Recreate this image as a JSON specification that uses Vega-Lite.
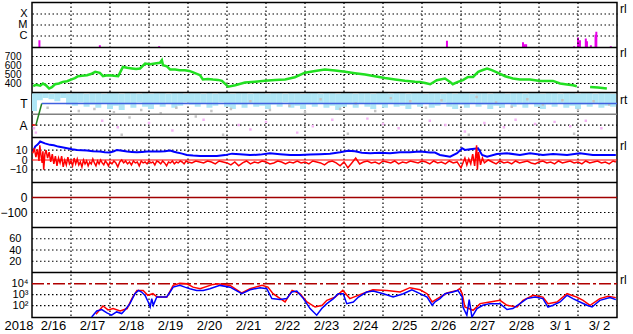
{
"$schema":"https://vega.github.io/schema/vega-lite/v6.json",
"autosize":{"type":"none"},
"width":585,"height":315,
"padding":{"left":32,"top":2.5,"right":16,"bottom":16.5},
"background":"white",
"config":{
 "view":{"stroke":"#000","strokeWidth":1.5},
 "axis":{"grid":true,"gridColor":"#000","gridDash":[1.5,2.5],"gridOpacity":1,"gridWidth":1.2,"domain":false,"ticks":false,"tickSize":0,"labelFont":"Liberation Sans","labelFontSize":12,"labelColor":"#000","labelOverlap":false},
 "axisY":{"labelPadding":5,"labelAlign":"right"}
},
"resolve":{"scale":{"y":"independent"},"axis":{"y":"independent"}},
"datasets":{
 "days":[{"d":1},{"d":2},{"d":3},{"d":4},{"d":5},{"d":6},{"d":7},{"d":8},{"d":9},{"d":10},{"d":11},{"d":12},{"d":13},{"d":14}],
 "xray":[{"t":0.19,"v":-6.43},{"t":1.74,"v":-6.88},{"t":3.26,"v":-6.97},{"t":10.64,"v":-6.49},{"t":12.59,"v":-6.61},{"t":12.63,"v":-6.79},{"t":12.67,"v":-6.79},{"t":13.9,"v":-6.97},{"t":14.0,"v":-6.18},{"t":14.05,"v":-6.43},{"t":14.2,"v":-6.27},{"t":14.23,"v":-6.52},{"t":14.33,"v":-6.88},{"t":14.45,"v":-5.95},{"t":14.47,"v":-5.67},{"t":14.84,"v":-6.97}],
 "wind":[{"t":0.03,"v":370,"s":1},{"t":0.1,"v":385,"s":1},{"t":0.21,"v":375,"s":1},{"t":0.28,"v":400,"s":1},{"t":0.36,"v":380,"s":1},{"t":0.44,"v":344,"s":1},{"t":0.51,"v":360,"s":1},{"t":0.59,"v":392,"s":1},{"t":0.69,"v":400,"s":1},{"t":0.79,"v":418,"s":1},{"t":0.9,"v":425,"s":1},{"t":1.0,"v":444,"s":1},{"t":1.1,"v":460,"s":1},{"t":1.18,"v":481,"s":1},{"t":1.28,"v":485,"s":1},{"t":1.41,"v":492,"s":1},{"t":1.51,"v":505,"s":1},{"t":1.62,"v":529,"s":1},{"t":1.74,"v":518,"s":1},{"t":1.82,"v":481,"s":1},{"t":1.9,"v":488,"s":1},{"t":2.0,"v":492,"s":1},{"t":2.1,"v":485,"s":1},{"t":2.21,"v":481,"s":1},{"t":2.28,"v":540,"s":1},{"t":2.33,"v":584,"s":1},{"t":2.44,"v":575,"s":1},{"t":2.56,"v":567,"s":1},{"t":2.67,"v":560,"s":1},{"t":2.77,"v":567,"s":1},{"t":2.9,"v":622,"s":1},{"t":3.03,"v":615,"s":1},{"t":3.15,"v":622,"s":1},{"t":3.28,"v":630,"s":1},{"t":3.33,"v":659,"s":1},{"t":3.36,"v":603,"s":1},{"t":3.46,"v":590,"s":1},{"t":3.54,"v":556,"s":1},{"t":3.67,"v":555,"s":1},{"t":3.79,"v":548,"s":1},{"t":3.92,"v":548,"s":1},{"t":4.03,"v":540,"s":1},{"t":4.1,"v":529,"s":1},{"t":4.21,"v":510,"s":1},{"t":4.31,"v":492,"s":1},{"t":4.38,"v":444,"s":1},{"t":4.51,"v":450,"s":1},{"t":4.64,"v":444,"s":1},{"t":4.77,"v":440,"s":1},{"t":4.87,"v":430,"s":1},{"t":5.03,"v":365,"s":1},{"t":5.21,"v":380,"s":1},{"t":5.46,"v":410,"s":1},{"t":5.72,"v":420,"s":1},{"t":5.97,"v":430,"s":1},{"t":6.23,"v":440,"s":1},{"t":6.49,"v":445,"s":1},{"t":6.74,"v":470,"s":1},{"t":7.0,"v":520,"s":1},{"t":7.26,"v":540,"s":1},{"t":7.51,"v":555,"s":1},{"t":7.77,"v":545,"s":1},{"t":8.03,"v":530,"s":1},{"t":8.28,"v":515,"s":1},{"t":8.54,"v":500,"s":1},{"t":8.79,"v":480,"s":1},{"t":9.05,"v":460,"s":1},{"t":9.31,"v":445,"s":1},{"t":9.56,"v":430,"s":1},{"t":9.82,"v":420,"s":1},{"t":9.95,"v":418,"s":1},{"t":10.08,"v":405,"s":1},{"t":10.21,"v":392,"s":1},{"t":10.38,"v":437,"s":1},{"t":10.59,"v":456,"s":1},{"t":10.72,"v":418,"s":1},{"t":10.79,"v":392,"s":1},{"t":10.92,"v":418,"s":1},{"t":11.05,"v":437,"s":1},{"t":11.18,"v":473,"s":1},{"t":11.31,"v":473,"s":1},{"t":11.44,"v":529,"s":1},{"t":11.56,"v":550,"s":1},{"t":11.67,"v":567,"s":1},{"t":11.79,"v":548,"s":1},{"t":11.95,"v":518,"s":1},{"t":12.13,"v":481,"s":1},{"t":12.33,"v":456,"s":1},{"t":12.51,"v":444,"s":1},{"t":12.77,"v":444,"s":1},{"t":13.03,"v":429,"s":1},{"t":13.36,"v":429,"s":1},{"t":13.54,"v":400,"s":1},{"t":13.72,"v":390,"s":1},{"t":13.87,"v":381,"s":1},{"t":13.97,"v":370,"s":1},{"t":14.31,"v":362,"s":2},{"t":14.51,"v":355,"s":2},{"t":14.74,"v":344,"s":2}],
 "band":[{"t":0.05,"lo":0.3,"hi":1.95},{"t":0.2,"lo":1.3,"hi":1.95},{"t":0.35,"lo":1.5,"hi":1.95},{"t":0.5,"lo":1.4,"hi":1.9},{"t":0.65,"lo":1.2,"hi":1.95},{"t":0.8,"lo":1.5,"hi":1.95},{"t":0.95,"lo":0.9,"hi":1.9},{"t":1.1,"lo":0.8,"hi":1.95},{"t":1.25,"lo":1.1,"hi":1.95},{"t":1.4,"lo":0.7,"hi":1.9},{"t":1.55,"lo":0.9,"hi":1.95},{"t":1.7,"lo":0.6,"hi":1.95},{"t":1.85,"lo":1.0,"hi":1.9},{"t":2.0,"lo":0.5,"hi":1.95},{"t":2.15,"lo":0.8,"hi":1.95},{"t":2.3,"lo":0.4,"hi":1.9},{"t":2.45,"lo":0.9,"hi":1.95},{"t":2.6,"lo":0.6,"hi":1.95},{"t":2.75,"lo":1.1,"hi":1.9},{"t":2.9,"lo":0.7,"hi":1.95},{"t":3.05,"lo":0.5,"hi":1.9},{"t":3.2,"lo":0.9,"hi":1.95},{"t":3.35,"lo":0.7,"hi":1.95},{"t":3.5,"lo":1.0,"hi":1.9},{"t":3.65,"lo":0.6,"hi":1.95},{"t":3.8,"lo":0.8,"hi":1.95},{"t":3.95,"lo":1.1,"hi":1.9},{"t":4.1,"lo":0.9,"hi":1.95},{"t":4.25,"lo":0.7,"hi":1.95},{"t":4.4,"lo":1.0,"hi":1.9},{"t":4.55,"lo":0.6,"hi":1.95},{"t":4.7,"lo":0.8,"hi":1.9},{"t":4.85,"lo":1.1,"hi":1.95},{"t":5.0,"lo":0.7,"hi":1.95},{"t":5.15,"lo":0.5,"hi":1.9},{"t":5.3,"lo":0.9,"hi":1.95},{"t":5.45,"lo":0.6,"hi":1.95},{"t":5.6,"lo":1.0,"hi":1.9},{"t":5.75,"lo":0.7,"hi":1.95},{"t":5.9,"lo":0.8,"hi":1.95},{"t":6.05,"lo":0.5,"hi":1.9},{"t":6.2,"lo":0.9,"hi":1.95},{"t":6.35,"lo":0.7,"hi":1.95},{"t":6.5,"lo":1.1,"hi":1.9},{"t":6.65,"lo":0.6,"hi":1.95},{"t":6.8,"lo":0.8,"hi":1.95},{"t":6.95,"lo":0.5,"hi":1.9},{"t":7.1,"lo":0.9,"hi":1.95},{"t":7.25,"lo":0.7,"hi":1.95},{"t":7.4,"lo":1.0,"hi":1.9},{"t":7.55,"lo":0.6,"hi":1.95},{"t":7.7,"lo":0.8,"hi":1.95},{"t":7.85,"lo":0.4,"hi":1.9},{"t":8.0,"lo":0.7,"hi":1.95},{"t":8.15,"lo":0.9,"hi":1.95},{"t":8.3,"lo":0.6,"hi":1.9},{"t":8.45,"lo":1.0,"hi":1.95},{"t":8.6,"lo":0.7,"hi":1.95},{"t":8.75,"lo":0.5,"hi":1.9},{"t":8.9,"lo":0.9,"hi":1.95},{"t":9.05,"lo":0.6,"hi":1.95},{"t":9.2,"lo":1.0,"hi":1.9},{"t":9.35,"lo":0.7,"hi":1.95},{"t":9.5,"lo":0.8,"hi":1.95},{"t":9.65,"lo":0.5,"hi":1.9},{"t":9.8,"lo":0.9,"hi":1.95},{"t":9.95,"lo":0.7,"hi":1.95},{"t":10.1,"lo":1.0,"hi":1.9},{"t":10.25,"lo":0.6,"hi":1.95},{"t":10.4,"lo":0.8,"hi":1.95},{"t":10.55,"lo":1.1,"hi":1.9},{"t":10.7,"lo":0.7,"hi":1.95},{"t":10.85,"lo":0.5,"hi":1.9},{"t":11.0,"lo":0.9,"hi":1.95},{"t":11.15,"lo":0.6,"hi":1.95},{"t":11.3,"lo":1.0,"hi":1.9},{"t":11.45,"lo":0.7,"hi":1.95},{"t":11.6,"lo":0.9,"hi":1.95},{"t":11.75,"lo":0.5,"hi":1.9},{"t":11.9,"lo":0.8,"hi":1.95},{"t":12.05,"lo":0.6,"hi":1.95},{"t":12.2,"lo":1.0,"hi":1.9},{"t":12.35,"lo":0.7,"hi":1.95},{"t":12.5,"lo":0.9,"hi":1.95},{"t":12.65,"lo":0.6,"hi":1.9},{"t":12.8,"lo":1.0,"hi":1.95},{"t":12.95,"lo":0.7,"hi":1.95},{"t":13.1,"lo":0.5,"hi":1.9},{"t":13.25,"lo":0.9,"hi":1.95},{"t":13.4,"lo":0.7,"hi":1.95},{"t":13.55,"lo":1.0,"hi":1.9},{"t":13.7,"lo":0.6,"hi":1.95},{"t":13.85,"lo":0.8,"hi":1.95},{"t":14.0,"lo":0.5,"hi":1.9},{"t":14.15,"lo":0.9,"hi":1.95},{"t":14.3,"lo":0.7,"hi":1.95},{"t":14.45,"lo":1.0,"hi":1.9},{"t":14.6,"lo":0.6,"hi":1.95},{"t":14.75,"lo":0.8,"hi":1.95},{"t":14.9,"lo":0.7,"hi":1.9}],
 "gray":[{"t":0.4,"v":0.6},{"t":1.2,"v":0.3},{"t":1.6,"v":0.5},{"t":2.1,"v":0.2},{"t":2.5,"v":-0.3},{"t":2.8,"v":0.4},{"t":3.3,"v":0.1},{"t":3.7,"v":0.6},{"t":4.2,"v":-0.2},{"t":4.6,"v":0.3},{"t":5.1,"v":0.5},{"t":5.6,"v":1.2},{"t":6.1,"v":0.4},{"t":6.6,"v":0.8},{"t":7.0,"v":0.2},{"t":7.4,"v":1.4},{"t":7.9,"v":0.5},{"t":8.3,"v":1.0},{"t":8.8,"v":0.3},{"t":9.2,"v":1.5},{"t":9.7,"v":1.2},{"t":10.1,"v":0.6},{"t":10.5,"v":1.3},{"t":11.0,"v":0.4},{"t":11.4,"v":1.6},{"t":11.9,"v":1.1},{"t":12.3,"v":0.7},{"t":12.7,"v":1.4},{"t":13.1,"v":0.9},{"t":13.6,"v":1.3},{"t":14.0,"v":0.4},{"t":14.4,"v":1.2},{"t":14.8,"v":0.9},{"t":2.3,"v":-1.9},{"t":4.9,"v":-1.9},{"t":8.1,"v":-1.8},{"t":11.2,"v":-1.9},{"t":13.9,"v":-1.8}],
 "pink":[{"t":0.05,"v":-1.3},{"t":0.1,"v":-1.7},{"t":1.8,"v":-0.6},{"t":2.2,"v":-1.2},{"t":3.0,"v":-0.8},{"t":4.4,"v":-0.5},{"t":5.3,"v":-1.0},{"t":5.6,"v":-1.4},{"t":6.0,"v":-0.7},{"t":7.2,"v":-1.1},{"t":8.6,"v":-0.4},{"t":9.0,"v":-0.9},{"t":9.4,"v":-1.3},{"t":10.2,"v":-0.6},{"t":10.6,"v":-1.0},{"t":11.1,"v":-1.6},{"t":11.6,"v":-0.8},{"t":12.1,"v":-1.2},{"t":12.4,"v":-0.5},{"t":12.9,"v":-0.9},{"t":13.4,"v":-0.7},{"t":13.8,"v":-1.1},{"t":14.2,"v":-0.6},{"t":14.6,"v":-1.3},{"t":3.6,"v":-1.5},{"t":6.8,"v":-1.7},{"t":7.7,"v":-0.5}],
 "model":[{"t":0.0,"v":-1,"c":"r"},{"t":0.1,"v":-1,"c":"r"},{"t":0.1,"v":-1,"c":"g"},{"t":0.25,"v":1,"c":"g"},{"t":0.25,"v":1,"c":"b"},{"t":15,"v":1,"c":"b"}],
 "bt":[{"t":0.03,"v":8.6},{"t":0.08,"v":13.7},{"t":0.15,"v":16},{"t":0.21,"v":18.9},{"t":0.33,"v":17},{"t":0.46,"v":15.5},{"t":0.56,"v":15},{"t":0.67,"v":13.7},{"t":0.77,"v":13},{"t":0.9,"v":12},{"t":1.03,"v":11},{"t":1.15,"v":10.3},{"t":1.28,"v":10},{"t":1.41,"v":9.6},{"t":1.56,"v":9},{"t":1.74,"v":8.6},{"t":1.87,"v":8},{"t":2.0,"v":7.6},{"t":2.1,"v":9},{"t":2.18,"v":10.3},{"t":2.31,"v":9.5},{"t":2.44,"v":8.6},{"t":2.56,"v":8.3},{"t":2.69,"v":7.9},{"t":2.82,"v":8.3},{"t":2.95,"v":8.6},{"t":3.1,"v":8.6},{"t":3.28,"v":8.6},{"t":3.41,"v":9},{"t":3.54,"v":9.6},{"t":3.64,"v":8.5},{"t":3.72,"v":7.6},{"t":3.85,"v":6.5},{"t":3.97,"v":5.2},{"t":4.13,"v":4.5},{"t":4.31,"v":4.1},{"t":4.51,"v":4.1},{"t":4.74,"v":4.1},{"t":4.95,"v":5},{"t":5.13,"v":6.5},{"t":5.33,"v":6},{"t":5.59,"v":5},{"t":5.85,"v":5.5},{"t":6.1,"v":7},{"t":6.36,"v":6},{"t":6.62,"v":5},{"t":6.87,"v":5},{"t":7.13,"v":5.5},{"t":7.38,"v":6},{"t":7.64,"v":6.5},{"t":7.9,"v":8},{"t":8.1,"v":9.5},{"t":8.28,"v":9},{"t":8.46,"v":7.5},{"t":8.67,"v":7},{"t":8.92,"v":7.5},{"t":9.18,"v":7},{"t":9.44,"v":8},{"t":9.69,"v":8},{"t":9.95,"v":8.6},{"t":10.21,"v":7.6},{"t":10.33,"v":7.6},{"t":10.46,"v":5.2},{"t":10.72,"v":3.4},{"t":10.9,"v":6.9},{"t":11.03,"v":12},{"t":11.1,"v":10.3},{"t":11.23,"v":11},{"t":11.44,"v":12},{"t":11.54,"v":5.2},{"t":11.67,"v":3.4},{"t":11.92,"v":6.2},{"t":12.18,"v":6.9},{"t":12.51,"v":5.2},{"t":12.77,"v":6.9},{"t":13.1,"v":5.2},{"t":13.36,"v":6.2},{"t":13.72,"v":5.2},{"t":14.05,"v":6.9},{"t":14.38,"v":5.2},{"t":14.69,"v":5.2},{"t":14.97,"v":5.2}],
 "bz":[{"t":0.02,"v":7},{"t":0.06,"v":12},{"t":0.1,"v":3},{"t":0.14,"v":11},{"t":0.18,"v":-1},{"t":0.2,"v":15},{"t":0.23,"v":5},{"t":0.26,"v":-3},{"t":0.28,"v":9},{"t":0.3,"v":-10},{"t":0.33,"v":6},{"t":0.36,"v":10},{"t":0.4,"v":2},{"t":0.44,"v":8},{"t":0.48,"v":-2},{"t":0.52,"v":6},{"t":0.56,"v":-4},{"t":0.6,"v":4},{"t":0.64,"v":-6},{"t":0.68,"v":2},{"t":0.72,"v":-3},{"t":0.76,"v":4},{"t":0.8,"v":-7},{"t":0.84,"v":0},{"t":0.88,"v":-5},{"t":0.92,"v":3},{"t":0.96,"v":-4},{"t":1.0,"v":-1},{"t":1.04,"v":-6},{"t":1.08,"v":2},{"t":1.12,"v":-4},{"t":1.16,"v":1},{"t":1.2,"v":-5},{"t":1.24,"v":-2},{"t":1.28,"v":-7},{"t":1.32,"v":0},{"t":1.36,"v":-4},{"t":1.4,"v":-1},{"t":1.44,"v":-6},{"t":1.48,"v":-2},{"t":1.52,"v":-4},{"t":1.56,"v":1},{"t":1.6,"v":-3},{"t":1.64,"v":-6},{"t":1.68,"v":-1},{"t":1.72,"v":-4},{"t":1.76,"v":0},{"t":1.8,"v":-3},{"t":1.84,"v":-5},{"t":1.88,"v":-1},{"t":1.92,"v":-3},{"t":1.96,"v":-6},{"t":2.0,"v":-2},{"t":2.05,"v":-4},{"t":2.1,"v":-1},{"t":2.15,"v":-3},{"t":2.2,"v":-7},{"t":2.25,"v":-2},{"t":2.3,"v":0},{"t":2.35,"v":-3},{"t":2.4,"v":-1},{"t":2.45,"v":-4},{"t":2.5,"v":-2},{"t":2.55,"v":-5},{"t":2.6,"v":-1},{"t":2.65,"v":-3},{"t":2.7,"v":-2},{"t":2.75,"v":-6},{"t":2.8,"v":-1},{"t":2.85,"v":-3},{"t":2.9,"v":-2},{"t":2.95,"v":-4},{"t":3.0,"v":-1},{"t":3.05,"v":-3},{"t":3.1,"v":-2},{"t":3.15,"v":-5},{"t":3.2,"v":-1},{"t":3.25,"v":-2},{"t":3.3,"v":-4},{"t":3.35,"v":-1},{"t":3.4,"v":-3},{"t":3.45,"v":-6},{"t":3.5,"v":-2},{"t":3.55,"v":-3},{"t":3.6,"v":-1},{"t":3.65,"v":-4},{"t":3.7,"v":-2},{"t":3.75,"v":-3},{"t":3.8,"v":-1},{"t":3.85,"v":-2},{"t":3.9,"v":-4},{"t":3.95,"v":-1},{"t":4.0,"v":-2},{"t":4.1,"v":-3},{"t":4.2,"v":-1},{"t":4.3,"v":-2},{"t":4.4,"v":-3},{"t":4.5,"v":-1},{"t":4.6,"v":-2},{"t":4.7,"v":-4},{"t":4.8,"v":-1},{"t":4.9,"v":-2},{"t":5.0,"v":-3},{"t":5.1,"v":-5},{"t":5.2,"v":-2},{"t":5.3,"v":-6},{"t":5.4,"v":-3},{"t":5.5,"v":-1},{"t":5.6,"v":-4},{"t":5.7,"v":-2},{"t":5.8,"v":-3},{"t":5.9,"v":-1},{"t":6.0,"v":-2},{"t":6.1,"v":-4},{"t":6.2,"v":-3},{"t":6.3,"v":-1},{"t":6.4,"v":-2},{"t":6.5,"v":-4},{"t":6.6,"v":-2},{"t":6.7,"v":-3},{"t":6.8,"v":-1},{"t":6.9,"v":-3},{"t":7.0,"v":-2},{"t":7.1,"v":-4},{"t":7.2,"v":-1},{"t":7.3,"v":-2},{"t":7.4,"v":-3},{"t":7.5,"v":-5},{"t":7.6,"v":-2},{"t":7.7,"v":-1},{"t":7.8,"v":-3},{"t":7.9,"v":-6},{"t":8.0,"v":-2},{"t":8.1,"v":-8},{"t":8.2,"v":-3},{"t":8.3,"v":2},{"t":8.4,"v":-4},{"t":8.5,"v":-2},{"t":8.6,"v":-1},{"t":8.7,"v":-3},{"t":8.8,"v":-2},{"t":8.9,"v":-4},{"t":9.0,"v":-1},{"t":9.1,"v":-2},{"t":9.2,"v":-3},{"t":9.3,"v":-1},{"t":9.4,"v":-4},{"t":9.5,"v":-2},{"t":9.6,"v":-3},{"t":9.7,"v":-1},{"t":9.8,"v":-2},{"t":9.9,"v":-3},{"t":10.0,"v":-1},{"t":10.1,"v":-2},{"t":10.2,"v":-4},{"t":10.3,"v":-1},{"t":10.4,"v":-3},{"t":10.5,"v":-2},{"t":10.6,"v":-4},{"t":10.7,"v":-1},{"t":10.8,"v":-3},{"t":10.9,"v":-2},{"t":11.0,"v":-8},{"t":11.05,"v":-3},{"t":11.1,"v":2},{"t":11.15,"v":-5},{"t":11.2,"v":1},{"t":11.25,"v":-4},{"t":11.3,"v":6},{"t":11.35,"v":-6},{"t":11.4,"v":15},{"t":11.42,"v":-10},{"t":11.45,"v":8},{"t":11.5,"v":-5},{"t":11.55,"v":2},{"t":11.6,"v":-3},{"t":11.7,"v":0},{"t":11.8,"v":-2},{"t":11.9,"v":-4},{"t":12.0,"v":-1},{"t":12.1,"v":-3},{"t":12.2,"v":-2},{"t":12.3,"v":-4},{"t":12.4,"v":-1},{"t":12.5,"v":-3},{"t":12.6,"v":-2},{"t":12.7,"v":-1},{"t":12.8,"v":-3},{"t":12.9,"v":-4},{"t":13.0,"v":-2},{"t":13.1,"v":-1},{"t":13.2,"v":-3},{"t":13.3,"v":-2},{"t":13.4,"v":-4},{"t":13.5,"v":-1},{"t":13.6,"v":-3},{"t":13.7,"v":-2},{"t":13.8,"v":-1},{"t":13.9,"v":-3},{"t":14.0,"v":-2},{"t":14.1,"v":-4},{"t":14.2,"v":-1},{"t":14.3,"v":-3},{"t":14.4,"v":-2},{"t":14.5,"v":-1},{"t":14.6,"v":-3},{"t":14.7,"v":-2},{"t":14.8,"v":-4},{"t":14.9,"v":-1},{"t":14.97,"v":-2}],
 "fluxb":[{"t":1.53,"v":0.96},{"t":1.66,"v":1.51},{"t":1.79,"v":1.64},{"t":1.92,"v":1.33},{"t":2.04,"v":1.12},{"t":2.17,"v":1.42},{"t":2.3,"v":1.27},{"t":2.38,"v":1.57},{"t":2.51,"v":2.18},{"t":2.64,"v":3.09},{"t":2.73,"v":3.39},{"t":2.81,"v":3.24},{"t":2.9,"v":2.94},{"t":2.98,"v":2.33},{"t":3.03,"v":1.87},{"t":3.07,"v":2.64},{"t":3.11,"v":2.03},{"t":3.2,"v":2.78},{"t":3.33,"v":2.78},{"t":3.45,"v":2.78},{"t":3.54,"v":3.24},{"t":3.62,"v":3.69},{"t":3.79,"v":3.85},{"t":3.92,"v":3.69},{"t":4.05,"v":3.55},{"t":4.22,"v":3.39},{"t":4.39,"v":3.39},{"t":4.56,"v":3.55},{"t":4.82,"v":3.85},{"t":5.08,"v":3.69},{"t":5.38,"v":3.09},{"t":5.59,"v":3.45},{"t":5.85,"v":3.64},{"t":6.02,"v":3.55},{"t":6.15,"v":2.64},{"t":6.36,"v":2.55},{"t":6.53,"v":2.64},{"t":6.66,"v":3.24},{"t":6.79,"v":3.33},{"t":6.96,"v":2.64},{"t":7.13,"v":1.73},{"t":7.3,"v":1.12},{"t":7.43,"v":1.73},{"t":7.56,"v":2.18},{"t":7.73,"v":2.64},{"t":7.85,"v":3.09},{"t":7.98,"v":3.09},{"t":8.07,"v":2.18},{"t":8.24,"v":2.33},{"t":8.37,"v":2.78},{"t":8.58,"v":3.24},{"t":8.75,"v":3.33},{"t":9.01,"v":3.09},{"t":9.26,"v":2.78},{"t":9.52,"v":3.09},{"t":9.74,"v":3.45},{"t":9.95,"v":3.09},{"t":10.13,"v":2.78},{"t":10.26,"v":2.03},{"t":10.33,"v":2.33},{"t":10.46,"v":2.64},{"t":10.59,"v":3.09},{"t":10.79,"v":3.24},{"t":10.92,"v":3.39},{"t":11.03,"v":2.78},{"t":11.05,"v":1.87},{"t":11.15,"v":1.12},{"t":11.21,"v":2.55},{"t":11.28,"v":0.95},{"t":11.41,"v":1.73},{"t":11.56,"v":2.03},{"t":11.74,"v":2.18},{"t":12.0,"v":2.18},{"t":12.18,"v":1.64},{"t":12.33,"v":1.73},{"t":12.51,"v":2.18},{"t":12.69,"v":2.64},{"t":12.9,"v":2.78},{"t":13.1,"v":2.64},{"t":13.23,"v":1.87},{"t":13.36,"v":2.03},{"t":13.54,"v":2.33},{"t":13.72,"v":2.94},{"t":13.87,"v":2.64},{"t":14.05,"v":2.33},{"t":14.23,"v":2.03},{"t":14.36,"v":1.87},{"t":14.56,"v":2.48},{"t":14.82,"v":2.73},{"t":14.97,"v":2.55}],
 "fluxr":[{"t":1.64,"v":1.2},{"t":1.82,"v":1.96},{"t":1.95,"v":1.6},{"t":2.08,"v":1.73},{"t":2.26,"v":1.5},{"t":2.44,"v":1.73},{"t":2.56,"v":2.64},{"t":2.69,"v":3.39},{"t":2.85,"v":3.39},{"t":2.97,"v":2.94},{"t":3.1,"v":3.09},{"t":3.21,"v":2.78},{"t":3.46,"v":2.78},{"t":3.62,"v":3.85},{"t":3.79,"v":4.05},{"t":3.97,"v":4.0},{"t":4.13,"v":3.69},{"t":4.31,"v":3.55},{"t":4.64,"v":3.94},{"t":4.77,"v":4.0},{"t":5.08,"v":3.85},{"t":5.38,"v":3.15},{"t":5.59,"v":3.55},{"t":5.9,"v":3.85},{"t":6.05,"v":3.69},{"t":6.18,"v":3.09},{"t":6.49,"v":2.33},{"t":6.67,"v":3.39},{"t":6.87,"v":3.09},{"t":7.05,"v":2.33},{"t":7.26,"v":1.87},{"t":7.44,"v":2.03},{"t":7.56,"v":2.48},{"t":7.77,"v":2.78},{"t":7.97,"v":3.39},{"t":8.15,"v":2.64},{"t":8.36,"v":2.94},{"t":8.59,"v":3.24},{"t":8.74,"v":3.45},{"t":9.1,"v":3.39},{"t":9.44,"v":3.24},{"t":9.69,"v":3.64},{"t":9.95,"v":3.45},{"t":10.13,"v":3.09},{"t":10.26,"v":2.33},{"t":10.46,"v":2.78},{"t":10.64,"v":3.15},{"t":10.9,"v":3.39},{"t":10.97,"v":3.55},{"t":11.03,"v":3.09},{"t":11.1,"v":1.87},{"t":11.31,"v":1.57},{"t":11.49,"v":2.18},{"t":11.74,"v":2.33},{"t":12.0,"v":2.48},{"t":12.18,"v":2.03},{"t":12.44,"v":1.87},{"t":12.59,"v":2.48},{"t":12.85,"v":2.94},{"t":13.1,"v":2.78},{"t":13.23,"v":2.18},{"t":13.46,"v":2.33},{"t":13.72,"v":3.09},{"t":13.97,"v":2.78},{"t":14.13,"v":2.48},{"t":14.31,"v":2.03},{"t":14.56,"v":2.64},{"t":14.77,"v":2.85},{"t":14.97,"v":2.73}],
 "seps":[{"b":1},{"b":2},{"b":3},{"b":4},{"b":5},{"b":6}]
},
"layer":[
 {"data":{"name":"xray"},"mark":{"type":"rule","color":"#e800e8","strokeWidth":2,"clip":true},
  "encoding":{"x":{"field":"t","type":"quantitative","title":"2018","scale":{"domain":[0,15],"nice":false},"axis":{"grid":false,"values":[0,1,2,3,4,5,6,7,8,9,10,11,12,13,14],"labelExpr":"['2/16','2/17','2/18','2/19','2/20','2/21','2/22','2/23','2/24','2/25','2/26','2/27','2/28','3/ 1','3/ 2'][datum.value]","labelOffset":21,"labelFlush":false,"labelPadding":2,"labelFontSize":13,"titleX":-28,"titleY":2,"titleAlign":"left","titleBaseline":"top","titleFontWeight":"normal","titleFont":"Liberation Sans","titleFontSize":13,"titleColor":"#000"}},
   "y":{"field":"v","type":"quantitative","title":null,"scale":{"domain":[-7.09,-3.04],"range":[45,0]},"axis":{"orient":"left","grid":true,"values":[-6,-5,-4],"labelPadding":5,"labelFontSize":11,"labelOverlap":false,"labelExpr":"datum.value==-4?'X':(datum.value==-5?'M':'C')"}},"y2":{"datum":-7.09}}},
 {"data":{"name":"days"},"mark":{"type":"rule","color":"#000","strokeWidth":1.2,"strokeDash":[1.5,2.5]},
  "encoding":{"x":{"field":"d","type":"quantitative","title":"2018","scale":{"domain":[0,15],"nice":false}}}},
 {"data":{"values":[{"v":400},{"v":500},{"v":600},{"v":700}]},"mark":{"type":"rule","color":"#000","strokeWidth":1.2,"strokeDash":[1.5,2.5]},
  "encoding":{"x":{"datum":0,"scale":{"domain":[0,15],"nice":false}},"x2":{"datum":15},
   "y":{"field":"v","type":"quantitative","title":null,"scale":{"domain":[300,800],"range":[90,45]},"axis":{"orient":"left","grid":false,"values":[400,500,600,700],"labelPadding":11,"labelFontSize":10,"labelOverlap":false}}}},
 {"data":{"name":"wind"},"mark":{"type":"line","color":"#22e022","strokeWidth":2.5,"clip":true},
  "encoding":{"x":{"field":"t","type":"quantitative","title":"2018","scale":{"domain":[0,15],"nice":false}},
   "y":{"field":"v","type":"quantitative","title":null,"scale":{"domain":[300,800],"range":[90,45]},"axis":null},"detail":{"field":"s"}}},
 {"data":{"name":"band"},"mark":{"type":"rule","color":"#aee6f6","strokeWidth":6,"clip":true},
  "encoding":{"x":{"field":"t","type":"quantitative","title":"2018","scale":{"domain":[0,15],"nice":false}},
   "y":{"field":"lo","type":"quantitative","title":null,"scale":{"domain":[-2.15,2.02],"range":[135,90]},"axis":{"orient":"left","grid":false,"values":[-1,1],"labelPadding":5,"labelOverlap":false,"labelExpr":"datum.value==1?'T':'A'"}},"y2":{"field":"hi"}}},
 {"data":{"values":[{"v":-1}]},"mark":{"type":"rule","color":"#000","strokeWidth":1.2,"strokeDash":[1.5,2.5]},
  "encoding":{"x":{"datum":0,"scale":{"domain":[0,15],"nice":false}},"x2":{"datum":15},"y":{"field":"v","type":"quantitative","title":null,"scale":{"domain":[-2.15,2.02],"range":[135,90]},"axis":null}}},
 {"data":{"name":"gray"},"mark":{"type":"square","color":"#c4c4c4","size":6,"opacity":1,"clip":true},
  "encoding":{"x":{"field":"t","type":"quantitative","title":"2018","scale":{"domain":[0,15],"nice":false}},"y":{"field":"v","type":"quantitative","title":null,"scale":{"domain":[-2.15,2.02],"range":[135,90]},"axis":null}}},
 {"data":{"name":"pink"},"mark":{"type":"square","color":"#f4b4f4","size":6,"opacity":1,"clip":true},
  "encoding":{"x":{"field":"t","type":"quantitative","title":"2018","scale":{"domain":[0,15],"nice":false}},"y":{"field":"v","type":"quantitative","title":null,"scale":{"domain":[-2.15,2.02],"range":[135,90]},"axis":null}}},
 {"data":{"values":[{"v":0}]},"mark":{"type":"rule","color":"#808080","strokeWidth":1.5},
  "encoding":{"x":{"datum":0,"scale":{"domain":[0,15],"nice":false}},"x2":{"datum":15},"y":{"field":"v","type":"quantitative","title":null,"scale":{"domain":[-2.15,2.02],"range":[135,90]},"axis":null}}},
 {"data":{"name":"model"},"mark":{"type":"line","strokeWidth":1.5,"clip":true},
  "encoding":{"x":{"field":"t","type":"quantitative","title":"2018","scale":{"domain":[0,15],"nice":false}},"y":{"field":"v","type":"quantitative","title":null,"scale":{"domain":[-2.15,2.02],"range":[135,90]},"axis":null},"color":{"field":"c","type":"nominal","scale":{"domain":["r","g","b"],"range":["#e00000","#208020","#4060e0"]},"legend":null}}},
 {"data":{"values":[{"v":-10},{"v":10}]},"mark":{"type":"rule","color":"#000","strokeWidth":1.2,"strokeDash":[1.5,2.5]},
  "encoding":{"x":{"datum":0,"scale":{"domain":[0,15],"nice":false}},"x2":{"datum":15},
   "y":{"field":"v","type":"quantitative","title":null,"scale":{"domain":[-23,23],"range":[180,135]},"axis":{"orient":"left","grid":false,"values":[-10,0,10],"labelPadding":5,"labelFontSize":10.5,"labelOverlap":false,"labelExpr":"datum.value==0?'0':datum.label+'\u00a0\u00a0'"}}}},
 {"data":{"values":[{"v":0}]},"mark":{"type":"rule","color":"#ff0000","strokeWidth":1.2},
  "encoding":{"x":{"datum":0,"scale":{"domain":[0,15],"nice":false}},"x2":{"datum":15},"y":{"field":"v","type":"quantitative","title":null,"scale":{"domain":[-23,23],"range":[180,135]},"axis":null}}},
 {"data":{"name":"bt"},"mark":{"type":"line","color":"#0000ff","strokeWidth":2,"clip":true},
  "encoding":{"x":{"field":"t","type":"quantitative","title":"2018","scale":{"domain":[0,15],"nice":false}},"y":{"field":"v","type":"quantitative","title":null,"scale":{"domain":[-23,23],"range":[180,135]},"axis":null}}},
 {"data":{"name":"bz"},"mark":{"type":"line","color":"#ff0000","strokeWidth":1.5,"clip":true},
  "encoding":{"x":{"field":"t","type":"quantitative","title":"2018","scale":{"domain":[0,15],"nice":false}},"y":{"field":"v","type":"quantitative","title":null,"scale":{"domain":[-23,23],"range":[180,135]},"axis":null}}},
 {"data":{"values":[{"v":-100}]},"mark":{"type":"rule","color":"#000","strokeWidth":1.2,"strokeDash":[1.5,2.5]},
  "encoding":{"x":{"datum":0,"scale":{"domain":[0,15],"nice":false}},"x2":{"datum":15},
   "y":{"field":"v","type":"quantitative","title":null,"scale":{"domain":[-200,100],"range":[225,180]},"axis":{"orient":"left","grid":false,"values":[-100,0],"labelPadding":5,"labelOverlap":false,"labelExpr":"datum.value==0?'0':datum.label+'\u00a0'"}}}},
 {"data":{"values":[{"v":0}]},"mark":{"type":"rule","color":"#a00000","strokeWidth":1.5},
  "encoding":{"x":{"datum":0,"scale":{"domain":[0,15],"nice":false}},"x2":{"datum":15},"y":{"field":"v","type":"quantitative","title":null,"scale":{"domain":[-200,100],"range":[225,180]},"axis":null}}},
 {"data":{"values":[{"v":20},{"v":40},{"v":60}]},"mark":{"type":"rule","color":"#000","strokeWidth":1.2,"strokeDash":[1.5,2.5]},
  "encoding":{"x":{"datum":0,"scale":{"domain":[0,15],"nice":false}},"x2":{"datum":15},
   "y":{"field":"v","type":"quantitative","title":null,"scale":{"domain":[0,80],"range":[270,225]},"axis":{"orient":"left","grid":false,"values":[20,40,60],"labelPadding":11,"labelFontSize":11,"labelOverlap":false}}}},
 {"data":{"values":[{"v":2},{"v":3}]},"mark":{"type":"rule","color":"#000","strokeWidth":1.2,"strokeDash":[1.5,2.5]},
  "encoding":{"x":{"datum":0,"scale":{"domain":[0,15],"nice":false}},"x2":{"datum":15},
   "y":{"field":"v","type":"quantitative","title":null,"scale":{"domain":[0.91,5.03],"range":[315,270]},"axis":{"orient":"left","grid":false,"values":[2,3,4],"labelPadding":4,"labelFontSize":11,"labelOverlap":false,"labelExpr":"datum.value==2?'10²':(datum.value==3?'10³':'10⁴')"}}}},
 {"data":{"values":[{"v":4}]},"mark":{"type":"rule","color":"#b00000","strokeWidth":1.5,"strokeDash":[12,3,3,3]},
  "encoding":{"x":{"datum":0,"scale":{"domain":[0,15],"nice":false}},"x2":{"datum":15},"y":{"field":"v","type":"quantitative","title":null,"scale":{"domain":[0.91,5.03],"range":[315,270]},"axis":null}}},
 {"data":{"name":"fluxr"},"mark":{"type":"line","color":"#ff0000","strokeWidth":1.5,"clip":true},
  "encoding":{"x":{"field":"t","type":"quantitative","title":"2018","scale":{"domain":[0,15],"nice":false}},"y":{"field":"v","type":"quantitative","title":null,"scale":{"domain":[0.91,5.03],"range":[315,270]},"axis":null}}},
 {"data":{"name":"fluxb"},"mark":{"type":"line","color":"#0000ff","strokeWidth":1.5,"clip":true},
  "encoding":{"x":{"field":"t","type":"quantitative","title":"2018","scale":{"domain":[0,15],"nice":false}},"y":{"field":"v","type":"quantitative","title":null,"scale":{"domain":[0.91,5.03],"range":[315,270]},"axis":null}}},
 {"data":{"name":"seps"},"mark":{"type":"rule","color":"#000","strokeWidth":1.5},
  "encoding":{"x":{"datum":0,"scale":{"domain":[0,15],"nice":false}},"x2":{"datum":15},"y":{"field":"b","type":"quantitative","title":null,"scale":{"domain":[0,7],"range":[0,315]},"axis":null}}},
 {"data":{"values":[{"s":"rl"}]},"mark":{"type":"text","align":"left","baseline":"alphabetic","dx":3,"font":"Liberation Sans","fontSize":12,"clip":false},
  "encoding":{"x":{"datum":15,"scale":{"domain":[0,15],"nice":false}},"y":{"datum":-4,"scale":{"domain":[-7.09,-3.04],"range":[45,0]},"axis":null},"text":{"field":"s"}}},
 {"data":{"values":[{"s":"rl"}]},"mark":{"type":"text","align":"left","baseline":"alphabetic","dx":3,"font":"Liberation Sans","fontSize":12,"clip":false},
  "encoding":{"x":{"datum":15,"scale":{"domain":[0,15],"nice":false}},"y":{"datum":700,"scale":{"domain":[300,800],"range":[90,45]},"axis":null},"text":{"field":"s"}}},
 {"data":{"values":[{"s":"rt"}]},"mark":{"type":"text","align":"left","baseline":"alphabetic","dx":3,"font":"Liberation Sans","fontSize":12,"clip":false},
  "encoding":{"x":{"datum":15,"scale":{"domain":[0,15],"nice":false}},"y":{"datum":1,"scale":{"domain":[-2.15,2.02],"range":[135,90]},"axis":null},"text":{"field":"s"}}},
 {"data":{"values":[{"s":"rl"}]},"mark":{"type":"text","align":"left","baseline":"alphabetic","dx":3,"font":"Liberation Sans","fontSize":12,"clip":false},
  "encoding":{"x":{"datum":15,"scale":{"domain":[0,15],"nice":false}},"y":{"datum":10,"scale":{"domain":[-23,23],"range":[180,135]},"axis":null},"text":{"field":"s"}}},
 {"data":{"values":[{"s":"rl"}]},"mark":{"type":"text","align":"left","baseline":"alphabetic","dx":3,"font":"Liberation Sans","fontSize":12,"clip":false},
  "encoding":{"x":{"datum":15,"scale":{"domain":[0,15],"nice":false}},"y":{"datum":4,"scale":{"domain":[0.91,5.03],"range":[315,270]},"axis":null},"text":{"field":"s"}}}
]
}
